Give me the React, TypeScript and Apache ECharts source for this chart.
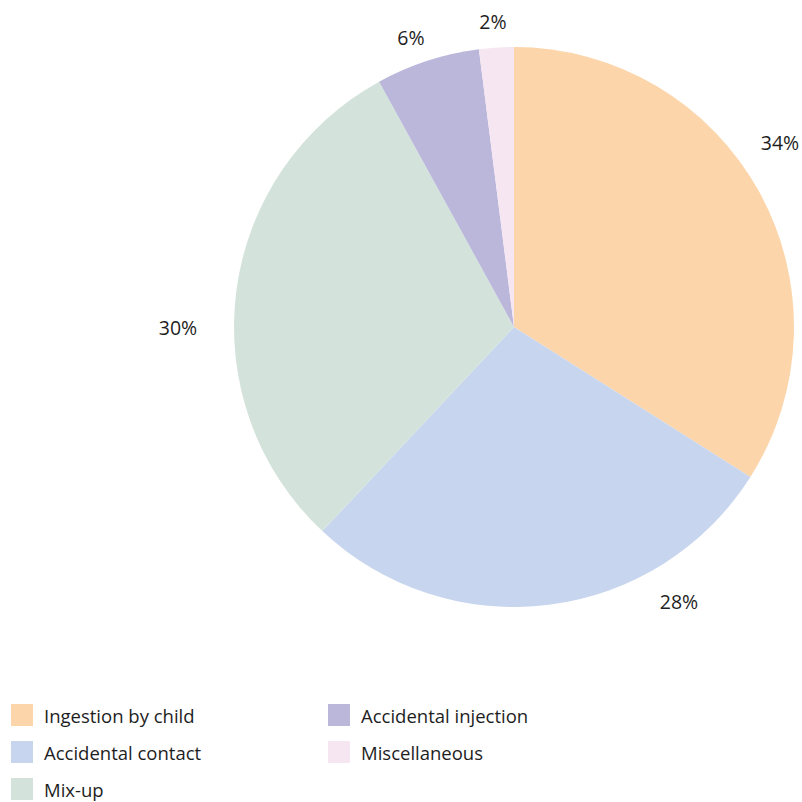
import React, { useEffect, useRef } from "react";
import * as echarts from "echarts";

const categories = ["Ingestion by child", "Accidental contact", "Mix-up", "Accidental injection", "Miscellaneous"];
const values = [34, 28, 30, 6, 2];
const colors = ["#FCD5AA", "#C7D5EE", "#D3E3DB", "#BBB7DB", "#F5E6F1"];
const legendCol1 = ["Ingestion by child", "Accidental contact", "Mix-up"];
const legendCol2 = ["Accidental injection", "Miscellaneous"];

// label anchor points (layout only), in slice order
const labelSpots: [number, number][] = [
  [780, 142],
  [679, 601],
  [178, 327],
  [411, 37],
  [493, 21],
];

export default function App() {
  const ref = useRef<HTMLDivElement>(null);
  useEffect(() => {
    document.body.style.margin = "0";
    const chart = echarts.init(ref.current!, undefined, { renderer: "svg" });
    const font = "'Open Sans', 'Noto Sans', sans-serif";
    const legendBase = {
      orient: "vertical" as const,
      top: 704,
      padding: 0,
      height: 120,
      itemWidth: 22,
      itemHeight: 22,
      itemGap: 15,
      icon: "rect",
      selectedMode: false,
      textStyle: { fontFamily: font, fontSize: 18.5, color: "#1e1e1e", padding: [4, 0, 0, 6] },
    };
    chart.setOption({
      animation: false,
      backgroundColor: "#fff",
      color: colors,
      legend: [
        { ...legendBase, left: 11, data: legendCol1 },
        { ...legendBase, left: 328, data: legendCol2 },
      ],
      series: [
        {
          type: "pie",
          center: [514, 327],
          radius: 280,
          startAngle: 90,
          clockwise: true,
          avoidLabelOverlap: false,
          label: {
            show: true,
            position: "outside",
            formatter: "{c}%",
            fontFamily: font,
            fontSize: 19.5,
            color: "#1e1e1e",
          },
          labelLine: { show: false },
          labelLayout: (p: any) => {
            const s = labelSpots[p.dataIndex];
            return { x: s[0], y: s[1], align: "center", verticalAlign: "middle" };
          },
          itemStyle: { borderWidth: 0 },
          emphasis: { disabled: true },
          data: categories.map((name, i) => ({ name, value: values[i] })),
        },
      ],
    });
    return () => chart.dispose();
  }, []);
  return <div ref={ref} style={{ width: 802, height: 802 }} />;
}
